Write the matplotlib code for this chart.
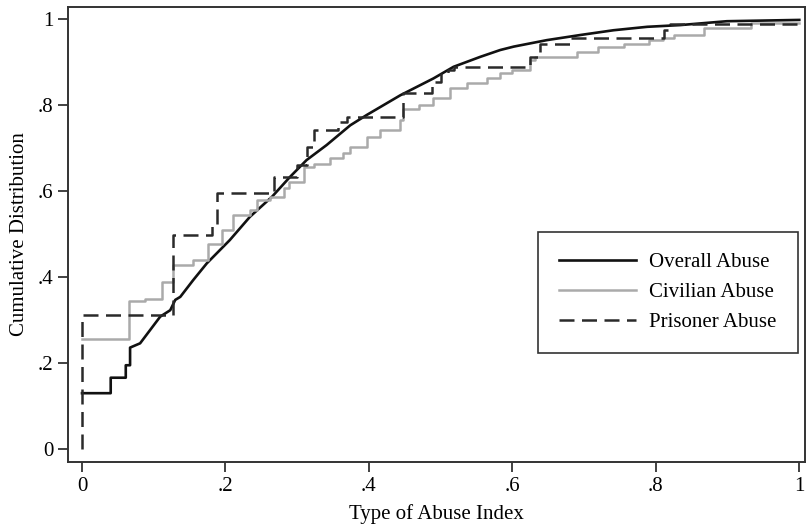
import matplotlib
matplotlib.use('Agg')
import matplotlib.pyplot as plt

plt.rcParams['font.family'] = ['Liberation Serif', 'DejaVu Serif']

# overall abuse: vertices of the (nearly smooth) CDF
overall_x = [0, 0.040, 0.040, 0.061, 0.061, 0.067, 0.067, 0.081, 0.095, 0.109, 0.123,
             0.130, 0.137, 0.155, 0.174, 0.206, 0.234, 0.265, 0.290, 0.313, 0.341,
             0.374, 0.397, 0.444, 0.490, 0.518, 0.555, 0.583, 0.602, 0.648, 0.695,
             0.741, 0.788, 0.834, 0.899, 1.0]
overall_y = [0.130, 0.130, 0.166, 0.166, 0.195, 0.195, 0.236, 0.246, 0.277, 0.308, 0.323,
             0.347, 0.354, 0.393, 0.432, 0.486, 0.540, 0.587, 0.633, 0.672, 0.707,
             0.753, 0.777, 0.823, 0.862, 0.889, 0.912, 0.928, 0.936, 0.951, 0.963,
             0.974, 0.982, 0.986, 0.995, 0.998]

# civilian abuse: step positions and levels
civilian_x = [0, 0.066, 0.088, 0.111, 0.127, 0.155, 0.176, 0.195, 0.211, 0.234, 0.244,
              0.262, 0.281, 0.288, 0.309, 0.323, 0.346, 0.364, 0.374, 0.397, 0.416,
              0.443, 0.448, 0.470, 0.490, 0.513, 0.537, 0.565, 0.583, 0.600, 0.625,
              0.632, 0.690, 0.720, 0.755, 0.790, 0.810, 0.826, 0.867, 0.932, 1.0]
civilian_y = [0.255, 0.345, 0.350, 0.389, 0.428, 0.440, 0.478, 0.509, 0.544, 0.556, 0.579,
              0.587, 0.606, 0.622, 0.657, 0.664, 0.676, 0.688, 0.703, 0.726, 0.742,
              0.765, 0.792, 0.800, 0.816, 0.839, 0.851, 0.862, 0.874, 0.881, 0.905,
              0.912, 0.924, 0.936, 0.943, 0.951, 0.955, 0.963, 0.979, 0.991, 0.991]

# prisoner abuse: step positions and levels
prisoner_x = [0, 0, 0.127, 0.181, 0.188, 0.267, 0.300, 0.313, 0.323, 0.357, 0.370,
              0.448, 0.488, 0.500, 0.510, 0.518, 0.625, 0.639, 0.681, 0.812, 0.820, 1.0]
prisoner_y = [0, 0.312, 0.498, 0.521, 0.595, 0.633, 0.660, 0.703, 0.742, 0.761, 0.773,
              0.829, 0.854, 0.874, 0.881, 0.889, 0.912, 0.943, 0.957, 0.974, 0.988, 0.988]

ticks = [0, 0.2, 0.4, 0.6, 0.8, 1.0]
tick_labels = ['0', '.2', '.4', '.6', '.8', '1']

fig = plt.figure(figsize=(8.06, 5.28), dpi=100)
ax = fig.add_axes([0.0844, 0.125, 0.9144, 0.8617])

ax.plot(overall_x, overall_y, color='#111111', lw=1.9, label='Overall Abuse')
ax.plot(civilian_x, civilian_y, drawstyle='steps-post', color='#aaaaaa', lw=1.8,
        label='Civilian Abuse')
ax.plot(prisoner_x, prisoner_y, drawstyle='steps-post', color='#2a2a2a', lw=1.8,
        dashes=(6, 3), label='Prisoner Abuse')

ax.set_xlim(-0.0195, 1.008)
ax.set_ylim(-0.030, 1.028)
ax.set_xticks(ticks)
ax.set_xticklabels(tick_labels)
ax.set_yticks(ticks)
ax.set_yticklabels(tick_labels)
ax.tick_params(direction='out', length=7, width=1.3, colors='#333333', labelsize=15,
               labelcolor='black')
for s in ax.spines.values():
    s.set_color('#333333')
    s.set_linewidth(1.4)

ax.set_xlabel('Type of Abuse Index', fontsize=15, labelpad=6)
ax.set_ylabel('Cumulative Distribution', fontsize=15, labelpad=6)

leg = ax.legend(loc='lower right', bbox_to_anchor=(0.990, 0.240), fontsize=15,
                frameon=True, fancybox=False, handlelength=3.7, borderpad=1.0,
                labelspacing=0.5, handletextpad=0.65, borderaxespad=0)
leg.get_frame().set_edgecolor('#333333')
leg.get_frame().set_linewidth(1.2)
leg.get_frame().set_alpha(1)

fig.savefig('out.png', dpi=100)
